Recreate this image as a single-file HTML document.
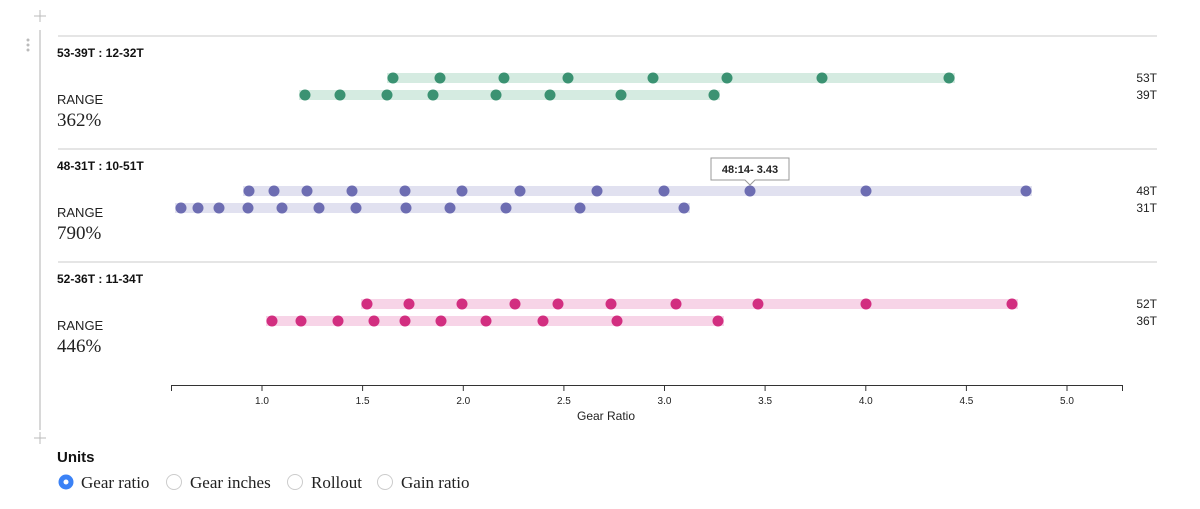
<!DOCTYPE html>
<html><head><style>
body{margin:0;background:#fff;}
svg{display:block;font-family:"Liberation Sans",sans-serif;}
.ser{font-family:"Liberation Serif",serif;}
</style></head><body>
<svg width="1200" height="509" viewBox="0 0 1200 509">
<!-- left chrome -->
<line x1="40" y1="30" x2="40" y2="430" stroke="#ccc" stroke-width="1.5"/>
<path d="M34 16H46M40 10V22" stroke="#bbb" stroke-width="1"/>
<path d="M34 438H46M40 432V444" stroke="#bbb" stroke-width="1"/>
<circle cx="28" cy="40" r="1.5" fill="#bbb"/><circle cx="28" cy="45" r="1.5" fill="#bbb"/><circle cx="28" cy="50" r="1.5" fill="#bbb"/>
<g stroke="#d5d5d5" stroke-width="1.3">
<line x1="58" y1="36" x2="1157" y2="36"/><line x1="58" y1="149" x2="1157" y2="149"/><line x1="58" y1="262" x2="1157" y2="262"/>
</g>
<g font-size="12" font-weight="bold" fill="#111">
<text x="57" y="57">53-39T : 12-32T</text>
<text x="57" y="170">48-31T : 10-51T</text>
<text x="57" y="283">52-36T : 11-34T</text>
</g>
<g font-size="13" fill="#222">
<text x="57" y="104">RANGE</text><text x="57" y="217">RANGE</text><text x="57" y="330">RANGE</text>
</g>
<g class="ser" font-size="19" fill="#222">
<text x="57" y="126">362%</text><text x="57" y="239">790%</text><text x="57" y="352">446%</text>
</g>
<g font-size="12" fill="#222" text-anchor="end">
<text x="1157" y="82">53T</text><text x="1157" y="99">39T</text>
<text x="1157" y="195">48T</text><text x="1157" y="212">31T</text>
<text x="1157" y="308">52T</text><text x="1157" y="325">36T</text>
</g>
<!-- bars -->
<rect x="387" y="73" width="568" height="10" fill="#d5ebe1"/>
<rect x="299" y="90" width="421" height="10" fill="#d5ebe1"/>
<rect x="243" y="186" width="789" height="10" fill="#e1e1f0"/>
<rect x="175" y="203" width="515" height="10" fill="#e1e1f0"/>
<rect x="361" y="299" width="657" height="10" fill="#f7d4e7"/>
<rect x="266" y="316" width="458" height="10" fill="#f7d4e7"/>
<g fill="#3b9272">
<circle cx="393" cy="78" r="5.5"/><circle cx="440" cy="78" r="5.5"/><circle cx="504" cy="78" r="5.5"/><circle cx="568" cy="78" r="5.5"/><circle cx="653" cy="78" r="5.5"/><circle cx="727" cy="78" r="5.5"/><circle cx="822" cy="78" r="5.5"/><circle cx="949" cy="78" r="5.5"/>
<circle cx="305" cy="95" r="5.5"/><circle cx="340" cy="95" r="5.5"/><circle cx="387" cy="95" r="5.5"/><circle cx="433" cy="95" r="5.5"/><circle cx="496" cy="95" r="5.5"/><circle cx="550" cy="95" r="5.5"/><circle cx="621" cy="95" r="5.5"/><circle cx="714" cy="95" r="5.5"/>
</g>
<g fill="#6d6db2">
<circle cx="249" cy="191" r="5.5"/><circle cx="274" cy="191" r="5.5"/><circle cx="307" cy="191" r="5.5"/><circle cx="352" cy="191" r="5.5"/><circle cx="405" cy="191" r="5.5"/><circle cx="462" cy="191" r="5.5"/><circle cx="520" cy="191" r="5.5"/><circle cx="597" cy="191" r="5.5"/><circle cx="664" cy="191" r="5.5"/><circle cx="750" cy="191" r="5.5"/><circle cx="866" cy="191" r="5.5"/><circle cx="1026" cy="191" r="5.5"/>
<circle cx="181" cy="208" r="5.5"/><circle cx="198" cy="208" r="5.5"/><circle cx="219" cy="208" r="5.5"/><circle cx="248" cy="208" r="5.5"/><circle cx="282" cy="208" r="5.5"/><circle cx="319" cy="208" r="5.5"/><circle cx="356" cy="208" r="5.5"/><circle cx="406" cy="208" r="5.5"/><circle cx="450" cy="208" r="5.5"/><circle cx="506" cy="208" r="5.5"/><circle cx="580" cy="208" r="5.5"/><circle cx="684" cy="208" r="5.5"/>
</g>
<g fill="#d22e80">
<circle cx="367" cy="304" r="5.5"/><circle cx="409" cy="304" r="5.5"/><circle cx="462" cy="304" r="5.5"/><circle cx="515" cy="304" r="5.5"/><circle cx="558" cy="304" r="5.5"/><circle cx="611" cy="304" r="5.5"/><circle cx="676" cy="304" r="5.5"/><circle cx="758" cy="304" r="5.5"/><circle cx="866" cy="304" r="5.5"/><circle cx="1012" cy="304" r="5.5"/>
<circle cx="272" cy="321" r="5.5"/><circle cx="301" cy="321" r="5.5"/><circle cx="338" cy="321" r="5.5"/><circle cx="374" cy="321" r="5.5"/><circle cx="405" cy="321" r="5.5"/><circle cx="441" cy="321" r="5.5"/><circle cx="486" cy="321" r="5.5"/><circle cx="543" cy="321" r="5.5"/><circle cx="617" cy="321" r="5.5"/><circle cx="718" cy="321" r="5.5"/>
</g>
<!-- tooltip -->
<path d="M711 158H789V180H755L750 185L745 180H711Z" fill="#fff" stroke="#999" stroke-width="1"/>
<text x="750" y="173" font-size="11" font-weight="bold" text-anchor="middle" fill="#222">48:14- 3.43</text>
<!-- axis -->
<g stroke="#333" stroke-width="1">
<line x1="171" y1="385.5" x2="1123" y2="385.5"/>
<line x1="171.5" y1="385" x2="171.5" y2="391"/><line x1="1122.5" y1="385" x2="1122.5" y2="391"/>
<line x1="262" y1="385" x2="262" y2="391"/><line x1="362.6" y1="385" x2="362.6" y2="391"/><line x1="463.3" y1="385" x2="463.3" y2="391"/><line x1="563.9" y1="385" x2="563.9" y2="391"/><line x1="664.5" y1="385" x2="664.5" y2="391"/><line x1="765.1" y1="385" x2="765.1" y2="391"/><line x1="865.8" y1="385" x2="865.8" y2="391"/><line x1="966.4" y1="385" x2="966.4" y2="391"/><line x1="1067" y1="385" x2="1067" y2="391"/>
</g>
<g font-size="10" fill="#222" text-anchor="middle">
<text x="262" y="404">1.0</text><text x="362.6" y="404">1.5</text><text x="463.3" y="404">2.0</text><text x="563.9" y="404">2.5</text><text x="664.5" y="404">3.0</text><text x="765.1" y="404">3.5</text><text x="865.8" y="404">4.0</text><text x="966.4" y="404">4.5</text><text x="1067" y="404">5.0</text>
</g>
<text x="606" y="420" font-size="12" fill="#222" text-anchor="middle">Gear Ratio</text>
<!-- units -->
<text x="57" y="462" font-size="15" font-weight="bold" fill="#111">Units</text>
<circle cx="66" cy="482" r="7.5" fill="#3b82f6"/><circle cx="66" cy="482" r="2.5" fill="#fff"/>
<circle cx="174" cy="482" r="7.5" fill="#fff" stroke="#ccc"/>
<circle cx="295" cy="482" r="7.5" fill="#fff" stroke="#ccc"/>
<circle cx="385" cy="482" r="7.5" fill="#fff" stroke="#ccc"/>
<g class="ser" font-size="17" fill="#222">
<text x="81" y="488">Gear ratio</text><text x="190" y="488">Gear inches</text><text x="311" y="488">Rollout</text><text x="401" y="488">Gain ratio</text>
</g>
</svg>
</body></html>
